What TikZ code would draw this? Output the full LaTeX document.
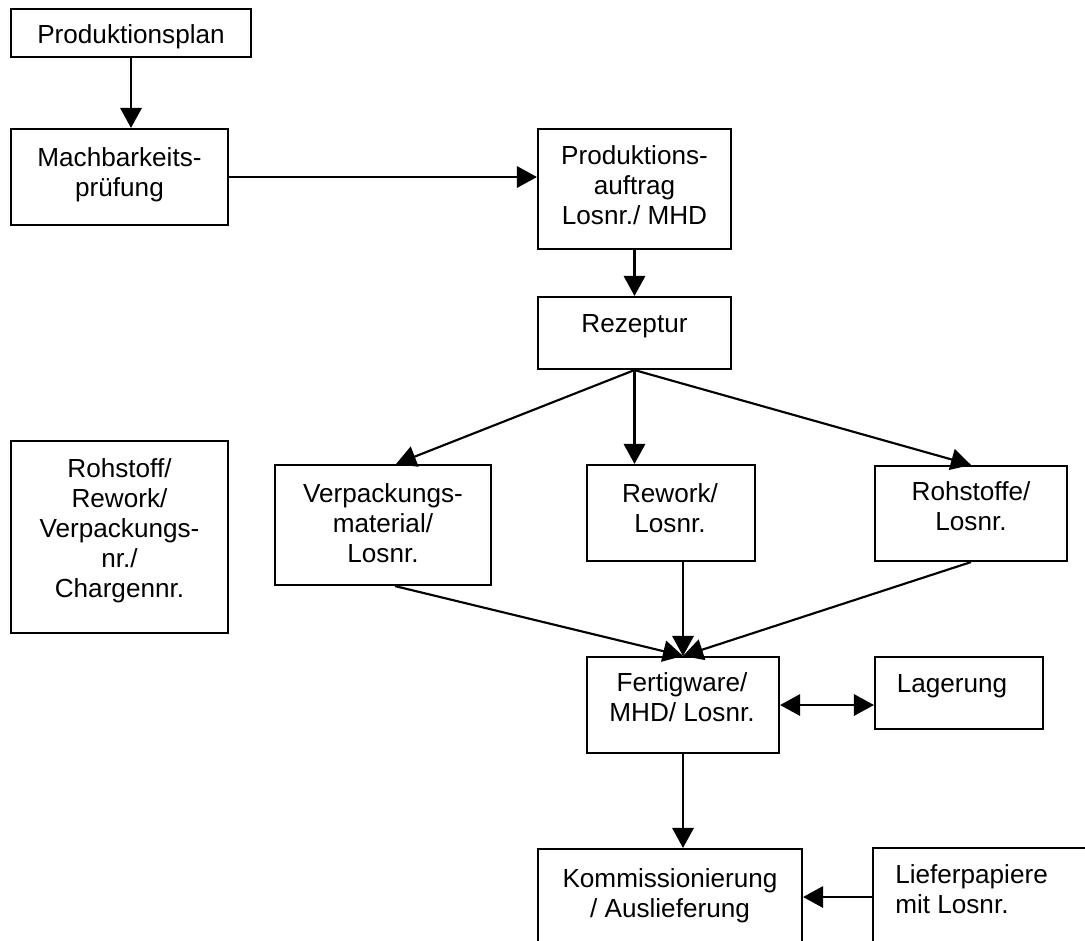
\documentclass[tikz,border=0pt]{standalone}
\usepackage{fontspec}
\setmainfont{Liberation Sans}
\usetikzlibrary{arrows.meta,fit,calc}
\begin{document}
\begin{tikzpicture}[x=0.75pt,y=-0.75pt,
  box/.style={draw, line width=1.6pt, inner sep=0pt},
  txt/.style={inner sep=0pt, align=center, anchor=north,
    font=\fontsize{19.6pt}{22.5pt}\selectfont},
  txtl/.style={txt, align=left, anchor=north west},
  flow/.style={line width=1.6pt, -{Triangle[length=15pt,width=16pt]}},
  both/.style={line width=1.6pt, {Triangle[length=15pt,width=16pt]}-{Triangle[length=15pt,width=16pt]}}]

% page frame
\useasboundingbox (0,0) rectangle (1085,940);
\clip (0,0) rectangle (1085,940);

% boxes
\node[box, fit={(11,9) (251,57)}]     (plan) {};
\node[box, fit={(11,129) (228,225)}]  (mach) {};
\node[box, fit={(538,129) (731,249)}] (auftrag) {};
\node[box, fit={(538,297) (731,369)}] (rez) {};
\node[box, fit={(11,441) (228,633)}]  (roh) {};
\node[box, fit={(275,465) (491,585)}] (vm) {};
\node[box, fit={(587,465) (755,561)}] (rw) {};
\node[box, fit={(875,466) (1067,561)}] (rs) {};
\node[box, fit={(587,657) (779,753)}] (fw) {};
\node[box, fit={(875,657) (1043,729)}] (lag) {};
\node[box, fit={(538,849) (802,975)}] (kom) {};
\node[box, fit={(873,848) (1110,946)}] (lief) {};

% box texts
\node[txt] (plan-t)    at (131,22)   {\strut Produktionsplan};
\node[txt] (mach-t)    at (119.5,145) {\strut Machbarkeits-\\prüfung};
\node[txt] (auftrag-t) at (634.5,143) {\strut Produktions-\\auftrag\\Losnr./ MHD};
\node[txt] (rez-t)     at (634.5,311) {\strut Rezeptur};
\node[txt] (roh-t)     at (119.5,456) {\strut Rohstoff/\\Rework/\\Verpackungs-\\nr./\\Chargennr.};
\node[txt] (vm-t)      at (383,481)  {\strut Verpackungs-\\material/\\Losnr.};
\node[txt] (rw-t)      at (670,481)  {\strut Rework/\\Losnr.};
\node[txt] (rs-t)      at (971,479)  {\strut Rohstoffe/\\Losnr.};
\node[txt] (fw-t)      at (682,670)  {\strut Fertigware/\\MHD/ Losnr.};
\node[txt] (lag-t)     at (952,671)  {\strut Lagerung};
\node[txt] (kom-t)     at (670,866)  {\strut Kommissionierung\\/ Auslieferung};
\node[txtl] (lief-t)   at (895,862)  {\strut Lieferpapiere\\mit Losnr.};

% ports on the packaging box
\coordinate (vm-in)  at ($(vm.north west)!0.56!(vm.north east)$);
\coordinate (vm-out) at ($(vm.south west)!0.555!(vm.south east)$);

% connectors
\draw[flow] (plan.south) -- (plan.south |- mach.north);
\draw[flow] (mach.east) -- (mach.east -| auftrag.west);
\draw[flow] (auftrag.south) -- (rez.north);
\draw[flow] (rez.south) -- (vm-in);
\draw[flow] (rez.south) -- (rez.south |- rw.north);
\draw[flow] (rez.south) -- (rs.north);
\draw[flow] (vm-out) -- (fw.north);
\draw[flow] (fw.north |- rw.south) -- (fw.north);
\draw[flow] (rs.south) -- (fw.north);
\draw[both] (fw.east) -- (fw.east -| lag.west);
\draw[flow] (fw.south) -- (fw.south |- kom.north);
\draw[flow] (lief.west) -- (lief.west -| kom.east);
\end{tikzpicture}
\end{document}
